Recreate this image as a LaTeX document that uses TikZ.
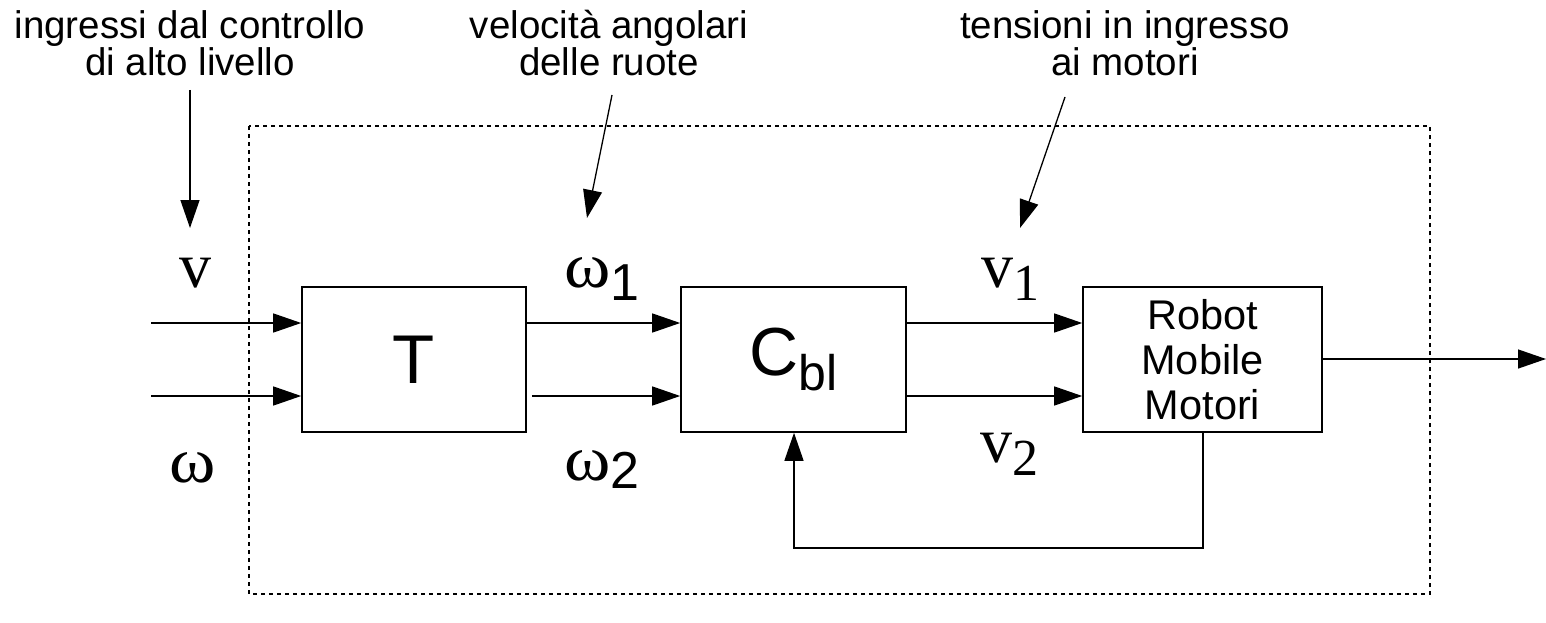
\documentclass[tikz,border=0pt]{standalone}
\usepackage{fontspec}
\setmainfont{Liberation Sans}
\newfontfamily\tms{Liberation Serif}
\usetikzlibrary{arrows.meta,calc}
\tikzset{
  blk/.style={draw, line width=1.6pt, inner sep=0pt, minimum height=145pt},
  arr/.style={line width=1.3pt, -{Triangle[length=28pt,width=19pt]}},
  ln/.style={line width=1.3pt},
  lbl/.style={anchor=base west, inner sep=0pt},
  note/.style={anchor=north, inner sep=0pt, align=center, font=\fontsize{38.5}{37}\selectfont},
  frame/.style={line width=1.3pt, dash pattern=on 4pt off 4pt},
  big/.style={font=\tms\fontsize{64}{64}\selectfont}
}
\newcommand{\omg}{\scalebox{1.1}[1]{ω}}
\begin{document}
\begin{tikzpicture}[x=1pt,y=-1pt]
\useasboundingbox (0,0) rectangle (1546,623);
% dotted frame
\draw[frame] (249,126) rectangle (1430,594);
% blocks
\node[blk, minimum width=224pt, font=\fontsize{69}{69}\selectfont] (T) at (414,359.5) {T};
\node[blk, minimum width=225pt] (C) at (793.5,359.5) {\fontsize{68}{68}\selectfont C\raisebox{-14pt}{\fontsize{50}{50}\selectfont bl}};
\node[blk, minimum width=239pt, align=center, font=\fontsize{41.5}{45}\selectfont] (R) at (1202.5,359.5) {Robot\\Mobile\\Motori};
% input coordinates
\coordinate (in1) at (151,323);
\coordinate (in2) at (151,396);
\coordinate (out) at (1546,359);
\coordinate (fbr) at (1203,548);
\coordinate (fbl) at (794,548);
% connectors
\draw[arr] (in1) -- (in1 -| T.west);
\draw[arr] (in2) -- (in2 -| T.west);
\draw[arr] (in1 -| T.east) -- (in1 -| C.west);
\draw[arr, shorten <=5pt] (in2 -| T.east) -- (in2 -| C.west);
\draw[arr] (in1 -| C.east) -- (in1 -| R.west);
\draw[arr] (in2 -| C.east) -- (in2 -| R.west);
\draw[arr] (out -| R.east) -- (out);
\draw[arr] (fbr |- R.south) -- (fbr) -- (fbl) -- (fbl |- C.south);
% signal labels
\node[big, anchor=base, inner sep=0pt] (lv) at (195,287) {v};
\node[big, anchor=base, inner sep=0pt] (lw) at (193,482) {\omg};
\node[lbl] (lw1) at (564,287) {{\tms\fontsize{64}{64}\selectfont \omg}\raisebox{-13pt}{\fontsize{52}{52}\selectfont 1}};
\node[lbl] (lw2) at (564,480) {{\tms\fontsize{64}{64}\selectfont \omg}\raisebox{-8pt}{\fontsize{52}{52}\selectfont 2}};
\node[lbl] (lv1) at (981,287) {{\tms\fontsize{64}{64}\selectfont v\raisebox{-13pt}{\fontsize{52}{52}\selectfont 1}}};
\node[lbl] (lv2) at (980,462) {{\tms\fontsize{64}{64}\selectfont v\raisebox{-13pt}{\fontsize{52}{52}\selectfont 2}}};
% notes
\node[note] (n1) at (190,10) {ingressi dal controllo\\di alto livello};
\node[note] (n2) at (609,10) {velocità angolari\\delle ruote};
\node[note] (n3) at (1125,10) {tensioni in ingresso\\ai motori};
\coordinate (a1s) at (190,90);  \coordinate (a1e) at (190,228);
\coordinate (a2s) at (612,95);  \coordinate (a2e) at (587,218);
\coordinate (a3s) at (1065,97); \coordinate (a3e) at (1020,228);
\draw[arr] (a1s) -- (a1e);
\draw[arr] (a2s) -- (a2e);
\draw[arr] (a3s) -- (a3e);
\end{tikzpicture}
\end{document}
